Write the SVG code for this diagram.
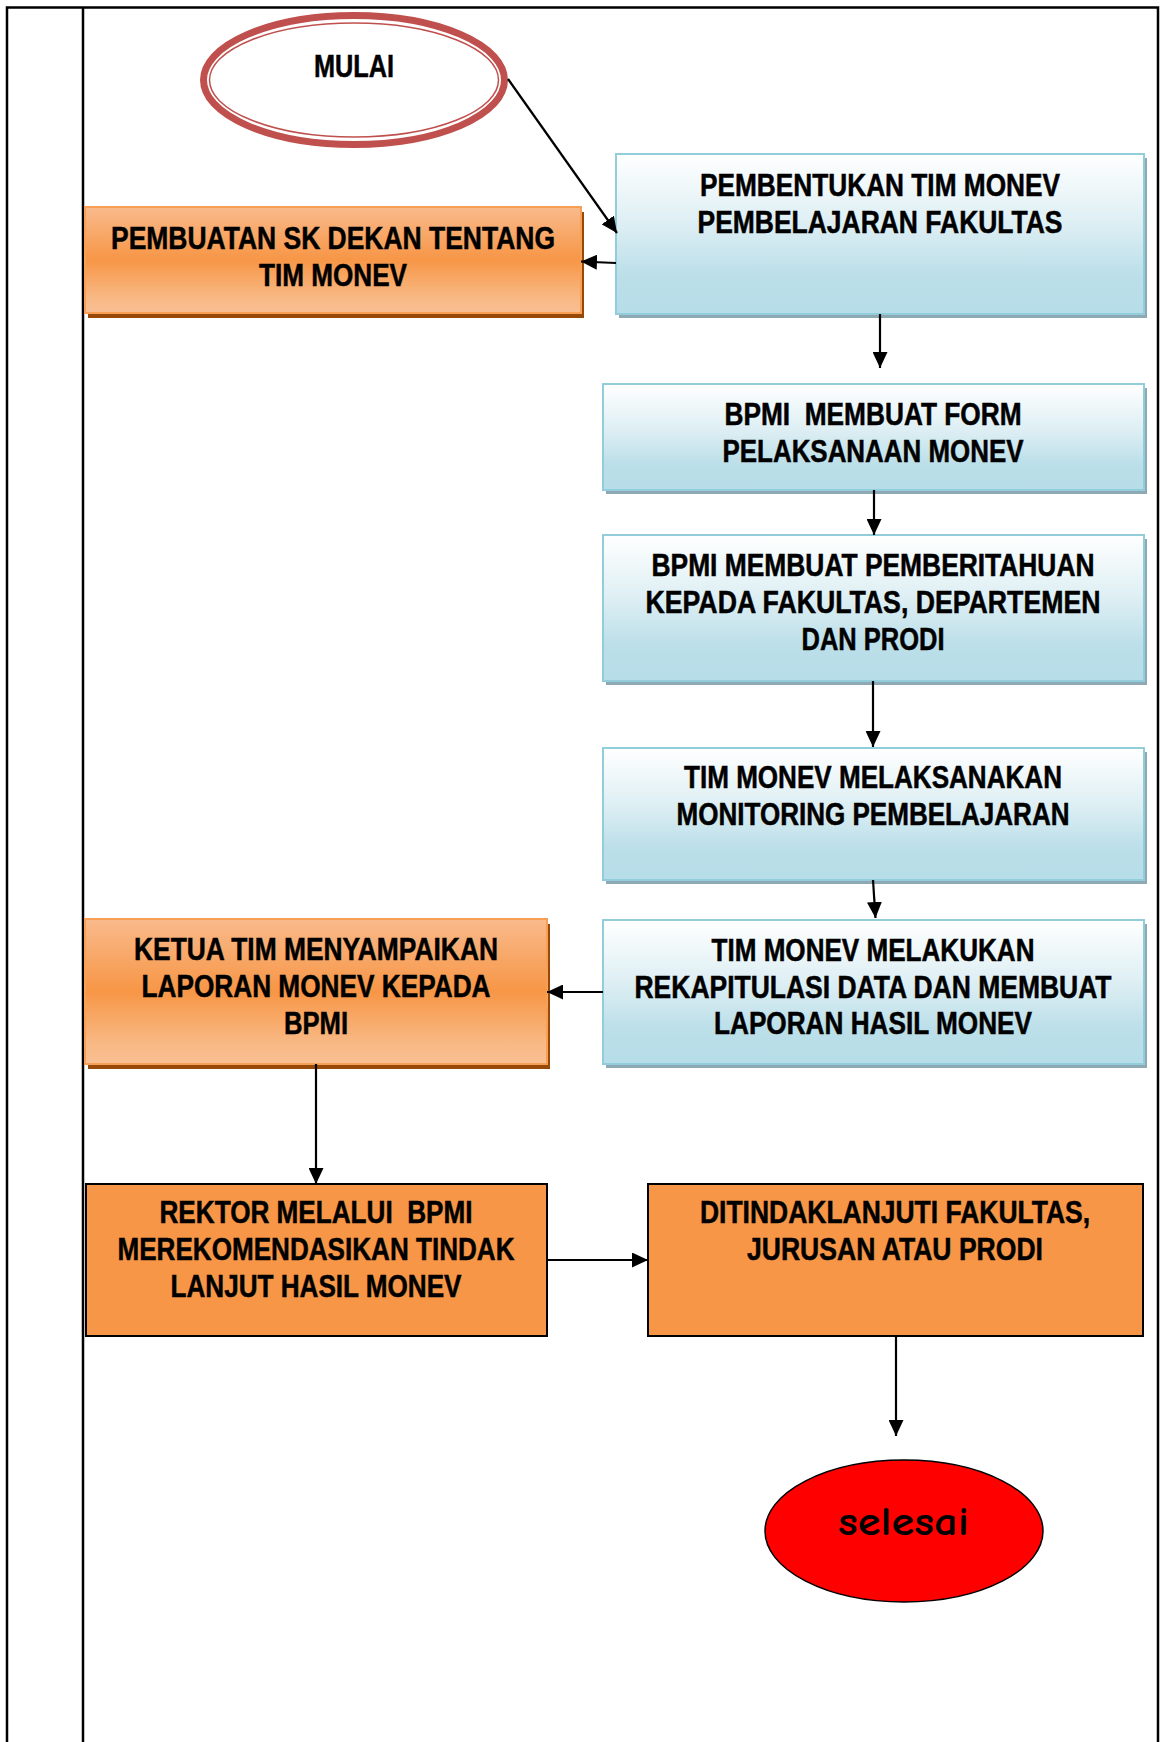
<svg xmlns="http://www.w3.org/2000/svg" width="1160" height="1742" viewBox="0 0 1160 1742">
<style>
.t{font-family:"Liberation Sans Narrow","Liberation Sans",Arial,sans-serif;font-weight:bold;font-size:31px;fill:#000;stroke:#000;stroke-width:0.5px;text-anchor:middle}
.pre{white-space:pre}
.blue{fill:url(#gBlue);stroke:#92CDDC;stroke-width:2}
.bshadow{fill:#8FA9B4}
.org{fill:url(#gOrg);stroke:#F7A055;stroke-width:2}
.oshadow{fill:#984807}
.solid{fill:#F79646;stroke:#000;stroke-width:2}
.con{stroke:#000;stroke-width:2.2;fill:none;marker-end:url(#ah)}
.frame{stroke:#000;stroke-width:2.5;fill:none}
</style>
<defs>
<linearGradient id="gBlue" x1="0" y1="0" x2="0" y2="1">
<stop offset="0" stop-color="#FFFFFF"/>
<stop offset="0.45" stop-color="#DCEEF3"/>
<stop offset="0.75" stop-color="#BCDFE9"/>
<stop offset="1" stop-color="#B6DDE8"/>
</linearGradient>
<linearGradient id="gOrg" x1="0" y1="0" x2="0" y2="1">
<stop offset="0" stop-color="#F9BA8C"/>
<stop offset="0.5" stop-color="#F79646"/>
<stop offset="0.85" stop-color="#F8B883"/>
<stop offset="1" stop-color="#F9C094"/>
</linearGradient>
<marker id="ah" markerUnits="userSpaceOnUse" markerWidth="16" markerHeight="15" refX="16" refY="7.5" orient="auto">
<path d="M0,0 L16,7.5 L0,15 z" fill="#000"/>
</marker>
</defs>
<rect width="1160" height="1742" fill="#fff"/>
<g id="frame">
<path class="frame" d="M7,1742 V7.5 H1158 V1742"/>
<path class="frame" d="M83,7.5 V1742"/>
</g>
<g id="mulai">
<ellipse cx="354" cy="80" rx="150.5" ry="64.5" fill="#fff" stroke="#C0504D" stroke-width="7"/>
<ellipse cx="354" cy="80" rx="144.5" ry="57" fill="none" stroke="#C0504D" stroke-width="1.5"/>
<text class="t" x="354" y="77" textLength="80" lengthAdjust="spacingAndGlyphs">MULAI</text>
</g>
<g id="pembentukan">
<rect class="bshadow" x="619" y="158" width="528" height="160"/>
<rect class="blue" x="616" y="154" width="528" height="160"/>
<text class="t" x="880" y="196" textLength="360" lengthAdjust="spacingAndGlyphs">PEMBENTUKAN TIM MONEV</text>
<text class="t" x="880" y="232.5" textLength="365" lengthAdjust="spacingAndGlyphs">PEMBELAJARAN FAKULTAS</text>
</g>
<g id="sk-dekan">
<rect class="oshadow" x="88" y="212" width="496" height="106"/>
<rect class="org" x="85" y="207" width="496" height="106"/>
<text class="t" x="333" y="248.5" textLength="444" lengthAdjust="spacingAndGlyphs">PEMBUATAN SK DEKAN TENTANG</text>
<text class="t" x="333" y="285.5" textLength="148" lengthAdjust="spacingAndGlyphs">TIM MONEV</text>
</g>
<g id="form">
<rect class="bshadow" x="606" y="388" width="541" height="106"/>
<rect class="blue" x="603" y="384" width="541" height="106"/>
<text class="t pre" xml:space="preserve" x="873" y="425" textLength="297" lengthAdjust="spacingAndGlyphs">BPMI  MEMBUAT FORM</text>
<text class="t" x="873" y="461.5" textLength="301" lengthAdjust="spacingAndGlyphs">PELAKSANAAN MONEV</text>
</g>
<g id="pemberitahuan">
<rect class="bshadow" x="606" y="539" width="541" height="146"/>
<rect class="blue" x="603" y="535" width="541" height="146"/>
<text class="t" x="873" y="576" textLength="443" lengthAdjust="spacingAndGlyphs">BPMI MEMBUAT PEMBERITAHUAN</text>
<text class="t" x="873" y="613" textLength="455" lengthAdjust="spacingAndGlyphs">KEPADA FAKULTAS, DEPARTEMEN</text>
<text class="t" x="873" y="650" textLength="143" lengthAdjust="spacingAndGlyphs">DAN PRODI</text>
</g>
<g id="monitoring">
<rect class="bshadow" x="606" y="752" width="541" height="132"/>
<rect class="blue" x="603" y="748" width="541" height="132"/>
<text class="t" x="873" y="788" textLength="378" lengthAdjust="spacingAndGlyphs">TIM MONEV MELAKSANAKAN</text>
<text class="t" x="873" y="825" textLength="393" lengthAdjust="spacingAndGlyphs">MONITORING PEMBELAJARAN</text>
</g>
<g id="rekapitulasi">
<rect class="bshadow" x="606" y="924" width="541" height="144"/>
<rect class="blue" x="603" y="920" width="541" height="144"/>
<text class="t" x="873" y="961" textLength="323" lengthAdjust="spacingAndGlyphs">TIM MONEV MELAKUKAN</text>
<text class="t" x="873" y="997.5" textLength="477" lengthAdjust="spacingAndGlyphs">REKAPITULASI DATA DAN MEMBUAT</text>
<text class="t" x="873" y="1034" textLength="318" lengthAdjust="spacingAndGlyphs">LAPORAN HASIL MONEV</text>
</g>
<g id="ketua">
<rect class="oshadow" x="88" y="924" width="462" height="145"/>
<rect class="org" x="85" y="919" width="462" height="145"/>
<text class="t" x="316" y="960" textLength="364" lengthAdjust="spacingAndGlyphs">KETUA TIM MENYAMPAIKAN</text>
<text class="t" x="316" y="997" textLength="349" lengthAdjust="spacingAndGlyphs">LAPORAN MONEV KEPADA</text>
<text class="t" x="316" y="1034" textLength="64" lengthAdjust="spacingAndGlyphs">BPMI</text>
</g>
<g id="rektor">
<rect class="solid" x="86" y="1184" width="461" height="152"/>
<text class="t pre" xml:space="preserve" x="316" y="1223" textLength="313" lengthAdjust="spacingAndGlyphs">REKTOR MELALUI  BPMI</text>
<text class="t" x="316" y="1260" textLength="397" lengthAdjust="spacingAndGlyphs">MEREKOMENDASIKAN TINDAK</text>
<text class="t" x="316" y="1297" textLength="291" lengthAdjust="spacingAndGlyphs">LANJUT HASIL MONEV</text>
</g>
<g id="ditindaklanjuti">
<rect class="solid" x="648" y="1184" width="495" height="152"/>
<text class="t" x="895" y="1223" textLength="390" lengthAdjust="spacingAndGlyphs">DITINDAKLANJUTI FAKULTAS,</text>
<text class="t" x="895" y="1260" textLength="296" lengthAdjust="spacingAndGlyphs">JURUSAN ATAU PRODI</text>
</g>
<g id="selesai">
<ellipse cx="904" cy="1531" rx="139" ry="71" fill="#FF0000" stroke="#000" stroke-width="1.5"/>
<text x="903.5" y="1535" font-family="'Comic Sans MS','Comic Neue','DejaVu Sans',sans-serif" font-size="41" font-weight="bold" text-anchor="middle" textLength="131" lengthAdjust="spacingAndGlyphs" fill="#000">selesai</text>
</g>
<g id="connectors">
<path class="con" d="M508,79 L617,233"/>
<path class="con" d="M616,263 L581,261.5"/>
<path class="con" d="M880,314 V368"/>
<path class="con" d="M874,490 V535"/>
<path class="con" d="M873,681 V747"/>
<path class="con" d="M873,880 L875.5,918"/>
<path class="con" d="M603,992 H547"/>
<path class="con" d="M316,1064 V1184"/>
<path class="con" d="M547,1260 H648"/>
<path class="con" d="M896,1336 V1436"/>
</g>
</svg>
